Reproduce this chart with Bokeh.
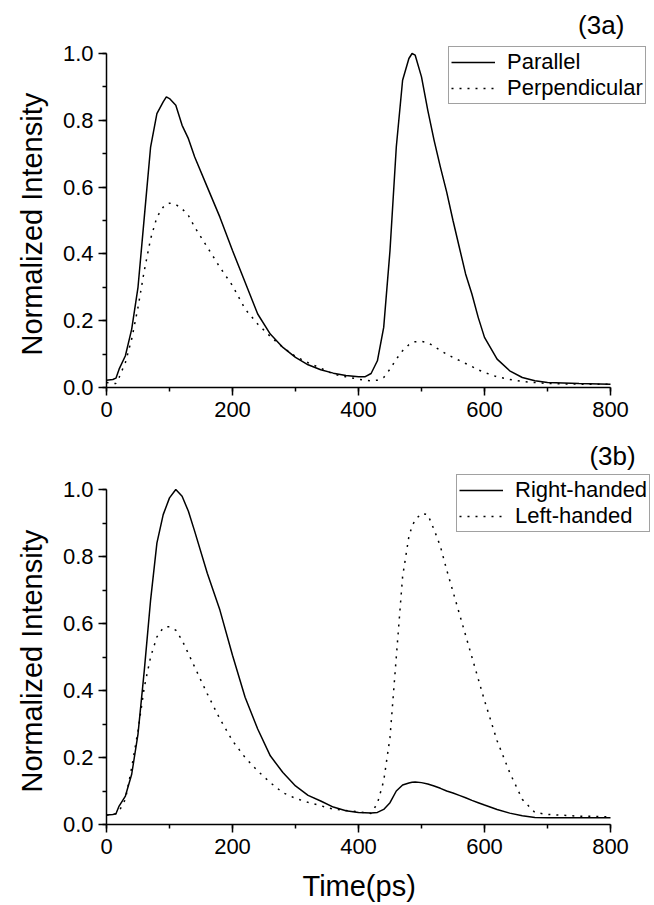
from bokeh.plotting import figure
from bokeh.models import Range1d, SingleIntervalTicker, PrintfTickFormatter, Label, Title
from bokeh.layouts import column
from bokeh.embed import file_html
from bokeh.resources import INLINE

FONT = "Liberation Sans"

# ---------------- data ----------------
time_ps = [0, 10, 15, 20, 30, 40, 50, 60, 70, 80, 90, 95, 100, 110, 120, 130, 140,
           160, 180, 200, 220, 240, 260, 280, 300, 320, 340, 360, 380, 400, 410,
           420, 430, 440, 450, 460, 470, 480, 485, 490, 500, 510, 520, 530, 540,
           550, 560, 570, 580, 590, 600, 620, 640, 660, 680, 700, 750, 800]

parallel = [0.022, 0.024, 0.028, 0.055, 0.095, 0.175, 0.30, 0.51, 0.72, 0.82, 0.855, 0.87,
            0.865, 0.845, 0.785, 0.745, 0.69, 0.60, 0.51, 0.41, 0.315, 0.22, 0.16, 0.12,
            0.09, 0.068, 0.053, 0.043, 0.036, 0.032, 0.032, 0.042, 0.08, 0.18, 0.41, 0.72,
            0.92, 0.985, 1.0, 0.995, 0.93, 0.83, 0.74, 0.66, 0.585, 0.50, 0.42, 0.34, 0.28,
            0.21, 0.15, 0.085, 0.05, 0.03, 0.02, 0.015, 0.012, 0.01]

perpendicular = [0.015, 0.012, 0.012, 0.03, 0.075, 0.145, 0.24, 0.35, 0.445, 0.51, 0.54, 0.548,
                 0.552, 0.548, 0.535, 0.515, 0.48, 0.42, 0.36, 0.305, 0.235, 0.19, 0.153, 0.12,
                 0.093, 0.074, 0.058, 0.04, 0.032, 0.025, 0.022, 0.02, 0.022, 0.03, 0.055, 0.085,
                 0.11, 0.128, 0.133, 0.137, 0.138, 0.134, 0.123, 0.111, 0.10, 0.09, 0.081, 0.072,
                 0.063, 0.053, 0.045, 0.032, 0.024, 0.018, 0.015, 0.012, 0.01, 0.01]

right_handed = [0.028, 0.03, 0.032, 0.055, 0.085, 0.15, 0.27, 0.46, 0.67, 0.84, 0.925, 0.95,
                0.975, 1.0, 0.98, 0.935, 0.875, 0.75, 0.64, 0.505, 0.38, 0.285, 0.205, 0.155,
                0.115, 0.087, 0.07, 0.052, 0.041, 0.036, 0.035, 0.034, 0.036, 0.045, 0.065, 0.10,
                0.118, 0.124, 0.126, 0.127, 0.125, 0.121, 0.115, 0.108, 0.10, 0.094, 0.087, 0.08,
                0.072, 0.065, 0.058, 0.045, 0.034, 0.026, 0.021, 0.02, 0.02, 0.02]

left_handed = [0.028, 0.03, 0.032, 0.04, 0.075, 0.17, 0.28, 0.41, 0.50, 0.56, 0.587, 0.59,
               0.59, 0.58, 0.55, 0.51, 0.47, 0.39, 0.315, 0.25, 0.20, 0.16, 0.125, 0.095,
               0.078, 0.066, 0.056, 0.046, 0.042, 0.038, 0.035, 0.033, 0.063, 0.13, 0.26, 0.50,
               0.74, 0.86, 0.89, 0.91, 0.928, 0.925, 0.88, 0.83, 0.76, 0.695, 0.63, 0.565,
               0.50, 0.435, 0.37, 0.25, 0.155, 0.075, 0.036, 0.03, 0.025, 0.023]

x_ticks = [0, 200, 400, 600, 800]
y_ticks = [0.0, 0.2, 0.4, 0.6, 0.8, 1.0]

PX_PER_X = 0.63      # screen px per ps
FRAME_W = 548        # frame runs to the right edge; axis is bounded to 0..800


def make_panel(tag, series, height, bottom, y_px, legend_loc, show_xlabel, tag_x, tag_y):
    frame_h = height - bottom
    p = figure(width=654, height=height, output_backend="svg", toolbar_location=None,
               x_range=Range1d(x_ticks[0], FRAME_W / PX_PER_X),
               y_range=Range1d(y_ticks[0], frame_h / y_px),
               min_border_left=106, min_border_right=0,
               min_border_top=0, min_border_bottom=bottom,
               frame_width=FRAME_W, frame_height=frame_h)
    p.outline_line_color = None
    p.grid.visible = False
    p.background_fill_color = "white"
    p.border_fill_color = "white"

    for name, ys, dash in series:
        p.line(time_ps, ys, line_color="black", line_width=1.5, line_dash=dash,
               legend_label=name)

    for ax in (p.xaxis[0], p.yaxis[0]):
        ax.axis_line_color = "black"
        ax.axis_line_width = 1.5
        ax.major_tick_line_color = "black"
        ax.major_tick_line_width = 1.5
        ax.minor_tick_line_color = "black"
        ax.minor_tick_line_width = 1.5
        ax.major_tick_out = 8
        ax.major_tick_in = 0
        ax.minor_tick_out = 4
        ax.minor_tick_in = 0
        ax.major_label_text_font = FONT
        ax.major_label_text_font_size = "22px"
        ax.major_label_text_color = "black"

    p.xaxis.bounds = (x_ticks[0], x_ticks[-1])
    p.yaxis.bounds = (y_ticks[0], y_ticks[-1])
    p.xaxis.ticker = SingleIntervalTicker(interval=x_ticks[1] - x_ticks[0], num_minor_ticks=2)
    p.yaxis.ticker = SingleIntervalTicker(interval=y_ticks[1] - y_ticks[0], num_minor_ticks=2)
    p.yaxis.formatter = PrintfTickFormatter(format="%.1f")
    p.xaxis.major_label_standoff = 6
    p.yaxis.major_label_standoff = 5

    # axis titles as side titles so they sit centred on the 0..800 / 0..1 span
    p.add_layout(Title(text="Normalized Intensity", align="left", offset=32,
                       text_font=FONT, text_font_size="29px", text_font_style="normal",
                       text_color="black", standoff=24), "left")
    if show_xlabel:
        p.add_layout(Title(text="Time(ps)", align="left", offset=196,
                           text_font=FONT, text_font_size="29px", text_font_style="normal",
                           text_color="black", standoff=22), "below")

    lg = p.legend[0]
    lg.location = legend_loc
    lg.label_text_font = FONT
    lg.label_text_font_size = "22px"
    lg.label_text_color = "black"
    lg.label_height = 22
    lg.glyph_height = 22
    lg.glyph_width = 44
    lg.label_standoff = 12
    lg.spacing = 0
    lg.padding = 2
    lg.margin = 0
    lg.border_line_color = "#444444"
    lg.border_line_width = 1.5
    lg.background_fill_color = "white"
    lg.background_fill_alpha = 1.0

    p.add_layout(Label(x=tag_x, y=tag_y, text=tag, text_align="right", text_baseline="middle",
                       text_font=FONT, text_font_size="26px", text_color="black"))
    return p


p1 = make_panel("(3a)", [("Parallel", parallel, "solid"),
                         ("Perpendicular", perpendicular, "2 6")],
                440, 53, 334, (342, 283), False, 822, 1.085)
p2 = make_panel("(3b)", [("Right-handed", right_handed, "solid"),
                         ("Left-handed", left_handed, "2 6")],
                465, 81, 335, (350, 292), True, 840, 1.10)

layout = column(p1, p2, spacing=0)
open("out.html", "w").write(file_html(layout, INLINE))
